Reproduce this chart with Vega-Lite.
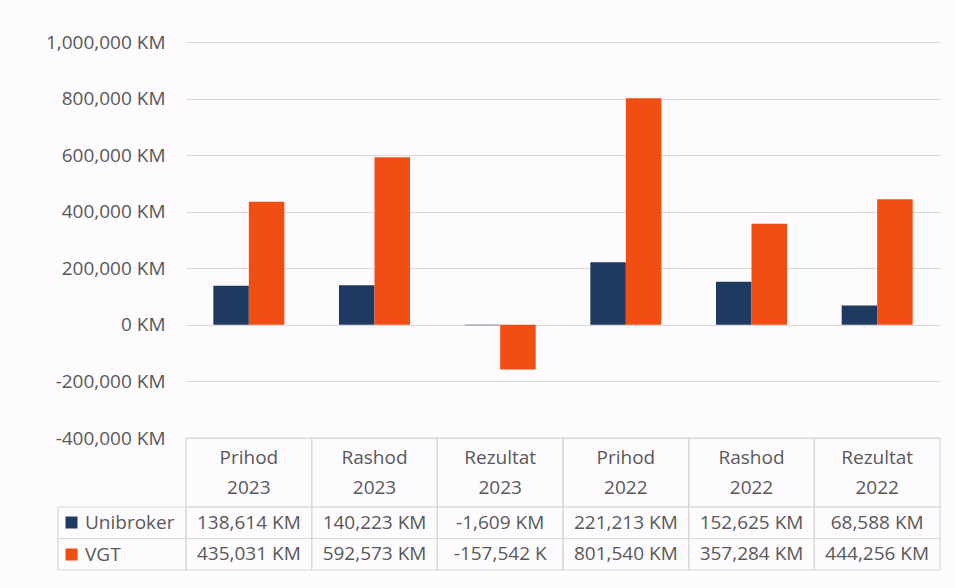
{
  "$schema": "https://vega.github.io/schema/vega-lite/v6.json",
  "padding": {"left": 45, "top": 33, "right": 15, "bottom": 17},
  "background": "#fdfbfd",
  "bounds": "flush",
  "spacing": 0,
  "columns": 2,
  "datasets": {
    "vals": [
      {"cat": "Prihod 2023", "series": "Unibroker", "value": 138614, "label": "138,614 KM"},
      {"cat": "Prihod 2023", "series": "VGT", "value": 435031, "label": "435,031 KM"},
      {"cat": "Rashod 2023", "series": "Unibroker", "value": 140223, "label": "140,223 KM"},
      {"cat": "Rashod 2023", "series": "VGT", "value": 592573, "label": "592,573 KM"},
      {"cat": "Rezultat 2023", "series": "Unibroker", "value": -1609, "label": "-1,609 KM"},
      {"cat": "Rezultat 2023", "series": "VGT", "value": -157542, "label": "-157,542 K"},
      {"cat": "Prihod 2022", "series": "Unibroker", "value": 221213, "label": "221,213 KM"},
      {"cat": "Prihod 2022", "series": "VGT", "value": 801540, "label": "801,540 KM"},
      {"cat": "Rashod 2022", "series": "Unibroker", "value": 152625, "label": "152,625 KM"},
      {"cat": "Rashod 2022", "series": "VGT", "value": 357284, "label": "357,284 KM"},
      {"cat": "Rezultat 2022", "series": "Unibroker", "value": 68588, "label": "68,588 KM"},
      {"cat": "Rezultat 2022", "series": "VGT", "value": 444256, "label": "444,256 KM"}
    ],
    "cats": [
      {"cat": "Prihod 2023"}, {"cat": "Rashod 2023"}, {"cat": "Rezultat 2023"},
      {"cat": "Prihod 2022"}, {"cat": "Rashod 2022"}, {"cat": "Rezultat 2022"}
    ],
    "series": [{"series": "Unibroker"}, {"series": "VGT"}]
  },
  "resolve": {"scale": {"color": "independent"}, "legend": {"color": "independent"}},
  "concat": [
    {
      "width": 128, "height": 396,
      "data": {"name": "series"},
      "mark": {"type": "point", "opacity": 0},
      "encoding": {}
    },
    {
      "width": 754, "height": 396,
      "data": {"name": "vals"},
      "mark": {"type": "bar"},
      "encoding": {
        "x": {"field": "cat", "type": "nominal", "sort": null,
              "scale": {"paddingInner": 0, "paddingOuter": 0}, "axis": null},
        "xOffset": {"field": "series", "type": "nominal", "sort": ["Unibroker", "VGT"],
              "scale": {"paddingInner": 0, "paddingOuter": 0.77}},
        "y": {"field": "value", "type": "quantitative",
              "scale": {"domain": [-400000, 1000000], "nice": false, "zero": false},
              "axis": {"title": null, "values": [-400000, -200000, 0, 200000, 400000, 600000, 800000, 1000000],
                       "labelExpr": "replace(format(datum.value, ','), '\u2212', '-') + ' KM'",
                       "domain": false, "ticks": false, "labelPadding": 21,
                       "grid": true, "gridColor": "#d9d9d9", "gridWidth": 1.2,
                       "labelFontSize": 19, "labelColor": "#595959"}},
        "color": {"field": "series", "type": "nominal",
                  "scale": {"domain": ["Unibroker", "VGT"], "range": ["#1f3a60", "#f04e12"]},
                  "legend": {"title": null, "orient": "none", "legendX": -124, "legendY": 471,
                             "symbolType": "square", "symbolSize": 144, "symbolStrokeWidth": 0,
                             "rowPadding": 12, "labelFontSize": 19, "labelColor": "#595959",
                             "labelOffset": 4, "padding": 0}}
      }
    },
    {
      "width": 128, "height": 69,
      "data": {"name": "series"},
      "mark": {"type": "point", "opacity": 0},
      "encoding": {}
    },
    {
      "width": 754, "height": 69,
      "data": {"name": "cats"},
      "layer": [
        {
          "mark": {"type": "rect", "fill": "transparent", "stroke": "#d9d9d9", "strokeWidth": 1.2},
          "encoding": {"x": {"field": "cat", "type": "nominal", "sort": null,
                             "scale": {"paddingInner": 0, "paddingOuter": 0}, "axis": null}}
        },
        {
          "mark": {"type": "text", "lineBreak": " ", "lineHeight": 30, "fontSize": 19,
                   "color": "#595959", "baseline": "middle", "dy": -15},
          "encoding": {"x": {"field": "cat", "type": "nominal", "sort": null, "axis": null},
                       "text": {"field": "cat"}}
        }
      ]
    },
    {
      "width": 128, "height": 63,
      "data": {"name": "series"},
      "mark": {"type": "rect", "fill": "transparent", "stroke": "#d9d9d9", "strokeWidth": 1.2},
      "encoding": {"y": {"field": "series", "type": "nominal", "sort": ["Unibroker", "VGT"],
                         "scale": {"paddingInner": 0, "paddingOuter": 0}, "axis": null}}
    },
    {
      "width": 754, "height": 63,
      "data": {"name": "vals"},
      "encoding": {
        "x": {"field": "cat", "type": "nominal", "sort": null,
              "scale": {"paddingInner": 0, "paddingOuter": 0}, "axis": null},
        "y": {"field": "series", "type": "nominal", "sort": ["Unibroker", "VGT"],
              "scale": {"paddingInner": 0, "paddingOuter": 0}, "axis": null}
      },
      "layer": [
        {"mark": {"type": "rect", "fill": "transparent", "stroke": "#d9d9d9", "strokeWidth": 1.2}},
        {"mark": {"type": "text", "fontSize": 19, "color": "#595959", "baseline": "middle"},
         "encoding": {"text": {"field": "label"}}}
      ]
    }
  ],
  "config": {
    "font": "Open Sans",
    "view": {"stroke": null}
  }
}
